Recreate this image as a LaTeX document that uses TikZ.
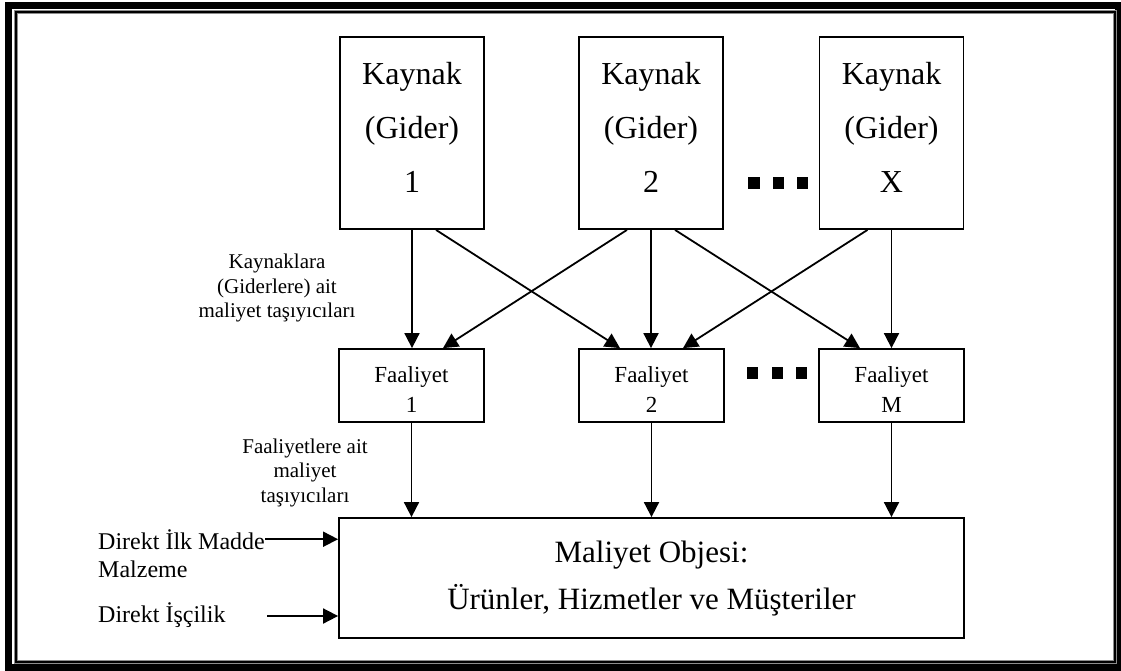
\documentclass[tikz,border=0pt]{standalone}
\usepackage{fontspec}
\setmainfont{Liberation Serif}
\usetikzlibrary{arrows.meta}
\begin{document}
\begin{tikzpicture}[x=1pt,y=-1pt,
  box/.style={draw, line width=1.8pt, rectangle, inner sep=0pt},
  kbox/.style={box, minimum width=144pt, minimum height=192pt},
  fbox/.style={box, minimum width=145pt, minimum height=73pt},
  ktxt/.style={align=center, inner sep=0pt, font=\fontsize{32}{54}\selectfont},
  ftxt/.style={align=center, inner sep=0pt, font=\fontsize{23}{30}\selectfont},
  mtxt/.style={align=center, inner sep=0pt, font=\fontsize{31}{47}\selectfont},
  note/.style={align=center, inner sep=0pt, font=\fontsize{21}{24.5}\selectfont},
  side/.style={anchor=base west, inner sep=0pt, font=\fontsize{24}{28}\selectfont},
  sq/.style={fill, rectangle, inner sep=0pt, minimum size=11.5pt},
  flow/.style={line width=1.8pt, -{Triangle[length=15pt,width=15pt]}}]
\useasboundingbox (0,0) rectangle (1121,670);

% page frame: thick outer band and thin inner rule
\draw[line width=7pt] (8.5,5) rectangle (1118.5,667.5);
\draw[line width=4pt, black!45] (16,12) rectangle (1115,662);
\draw[line width=1.6pt] (16,12) rectangle (1115,662);

% resources
\node[kbox] (k1) at (412,133) {};
\node[kbox] (k2) at (651,133) {};
\node[kbox] (k3) at (891.5,133) {};
\node[ktxt] (k1t) at (412,127) {Kaynak\\(Gider)\\1};
\node[ktxt] (k2t) at (651,127) {Kaynak\\(Gider)\\2};
\node[ktxt] (k3t) at (891.5,127) {Kaynak\\(Gider)\\X};
\node[sq] (ka) at (754,183) {};
\node[sq] (kb) at (778.5,183) {};
\node[sq] (kc) at (802.5,183) {};

% activities
\node[fbox] (f1) at (411.5,385.5) {};
\node[fbox] (f2) at (651.5,385.5) {};
\node[fbox] (f3) at (891.5,385.5) {};
\node[ftxt] (f1t) at (411.5,390) {Faaliyet\\1};
\node[ftxt] (f2t) at (651.5,390) {Faaliyet\\2};
\node[ftxt] (f3t) at (891.5,390) {Faaliyet\\M};
\node[sq] (fa) at (752.5,373) {};
\node[sq] (fb) at (777.5,373) {};
\node[sq] (fc) at (801.5,373) {};

% cost object
\node[box, minimum width=625pt, minimum height=120pt] (m) at (651.5,578) {};
\node[mtxt] (mt) at (651.5,579) {Maliyet Objesi:\\Ürünler, Hizmetler ve Müşteriler};

% resource drivers
\draw[flow] (k1.south) -- (k1.south |- f1.north);
\draw[flow] ([xshift=24pt]k1.south) -- ([xshift=-31.5pt]f2.north);
\draw[flow] ([xshift=-24pt]k2.south) -- ([xshift=31.5pt]f1.north);
\draw[flow] (k2.south) -- (k2.south |- f2.north);
\draw[flow] ([xshift=24pt]k2.south) -- ([xshift=-31.5pt]f3.north);
\draw[flow] ([xshift=-24pt]k3.south) -- ([xshift=31.5pt]f2.north);
\draw[flow] (k3.south) -- (k3.south |- f3.north);

% activity drivers
\draw[flow] (f1.south) -- (f1.south |- m.north);
\draw[flow] (f2.south) -- (f2.south |- m.north);
\draw[flow] (f3.south) -- (f3.south |- m.north);

% driver notes
\node[note] (n1) at (277,288) {Kaynaklara\\(Giderlere) ait\\maliyet taşıyıcıları};
\node[note] (n2) at (305,472.5) {Faaliyetlere ait\\maliyet\\taşıyıcıları};

% direct costs
\node[side] (dm) at (98,549) {Direkt İlk Madde};
\node[side] (mz) at (98,577) {Malzeme};
\node[side] (di) at (98,622) {Direkt İşçilik};
\draw[flow] (dm.east) -- (dm.east -| m.west);
\coordinate (dis) at (267,616);
\draw[flow] (dis) -- (dis -| m.west);
\end{tikzpicture}
\end{document}
